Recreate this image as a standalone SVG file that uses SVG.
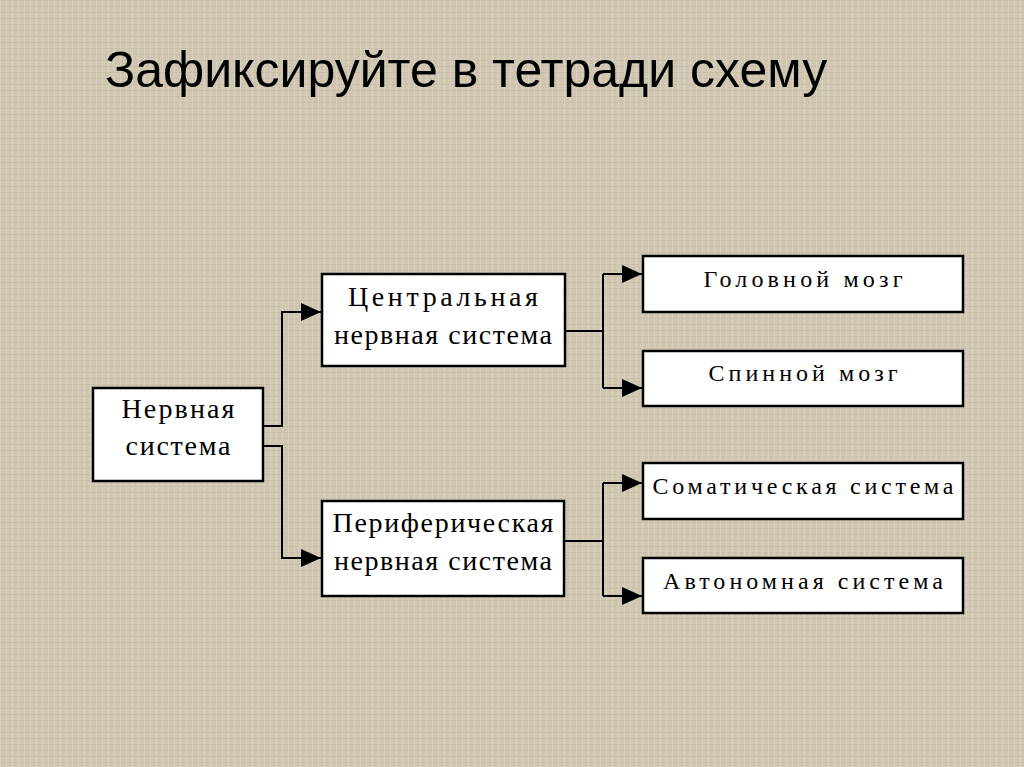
<svg xmlns="http://www.w3.org/2000/svg" width="1024" height="767" viewBox="0 0 1024 767">
<style>
.box{fill:#fff;stroke:#000;stroke-width:2.5}
.t{font-family:"Liberation Serif","DejaVu Serif",serif;fill:#000;text-anchor:middle}
.big{font-size:28px}
.sm{font-size:24px}
.ln{fill:none;stroke:#000;stroke-width:2}
</style>
<defs>
<pattern id="tex" width="6" height="6" patternUnits="userSpaceOnUse">
<rect width="6" height="6" fill="#d1c8b3"/>
<rect x="0" y="0" width="6" height="1" fill="#c4baa3" opacity="0.7"/>
<rect x="0" y="0" width="1" height="6" fill="#dcd4c2" opacity="0.7"/>
<rect x="3" y="3" width="1" height="1" fill="#b9ae96" opacity="0.6"/>
</pattern>
<marker id="ah" markerWidth="20" markerHeight="20" refX="20" refY="10" orient="auto" markerUnits="userSpaceOnUse">
<path d="M0,1 L20,10 L0,19 Z" fill="#000"/>
</marker>
</defs>
<rect width="1024" height="767" fill="url(#tex)"/>
<text x="105" y="87" font-family="Liberation Sans, Arial, sans-serif" font-size="50" fill="#000">Зафиксируйте в тетради схему</text>

<g id="connectors">
<path class="ln" d="M263,426 H282 V312 H321" marker-end="url(#ah)"/>
<path class="ln" d="M263,446 H282 V558 H321" marker-end="url(#ah)"/>
<path class="ln" d="M565,331 H603"/>
<path class="ln" d="M603,274 V388"/>
<path class="ln" d="M603,274 H642" marker-end="url(#ah)"/>
<path class="ln" d="M603,388 H642" marker-end="url(#ah)"/>
<path class="ln" d="M564,541 H603"/>
<path class="ln" d="M603,483 V596"/>
<path class="ln" d="M603,483 H642" marker-end="url(#ah)"/>
<path class="ln" d="M603,596 H642" marker-end="url(#ah)"/>
</g>

<g id="nervnaya">
<rect class="box" x="93" y="388" width="170" height="93"/>
<text class="t big" x="178" y="418" textLength="113" lengthAdjust="spacing">Нервная</text>
<text class="t big" x="178" y="455" textLength="105" lengthAdjust="spacing">система</text>
</g>

<g id="central">
<rect class="box" x="322" y="274" width="243" height="92"/>
<text class="t big" x="443" y="306" textLength="190" lengthAdjust="spacing">Центральная</text>
<text class="t big" x="443" y="344" textLength="218" lengthAdjust="spacing">нервная система</text>
</g>

<g id="peripheral">
<rect class="box" x="322" y="501" width="242" height="95"/>
<text class="t big" x="443" y="532" textLength="221" lengthAdjust="spacing">Периферическая</text>
<text class="t big" x="443" y="570" textLength="218" lengthAdjust="spacing">нервная система</text>
</g>

<g id="golovnoy">
<rect class="box" x="643" y="256" width="320" height="56"/>
<text class="t sm" x="803" y="287" textLength="199" lengthAdjust="spacing">Головной мозг</text>
</g>

<g id="spinnoy">
<rect class="box" x="643" y="351" width="320" height="55"/>
<text class="t sm" x="803" y="381" textLength="189" lengthAdjust="spacing">Спинной мозг</text>
</g>

<g id="somatic">
<rect class="box" x="643" y="463" width="320" height="56"/>
<text class="t sm" x="803" y="494" textLength="301" lengthAdjust="spacing">Соматическая система</text>
</g>

<g id="autonomic">
<rect class="box" x="643" y="558" width="320" height="55"/>
<text class="t sm" x="803" y="589" textLength="280" lengthAdjust="spacing">Автономная система</text>
</g>
</svg>
